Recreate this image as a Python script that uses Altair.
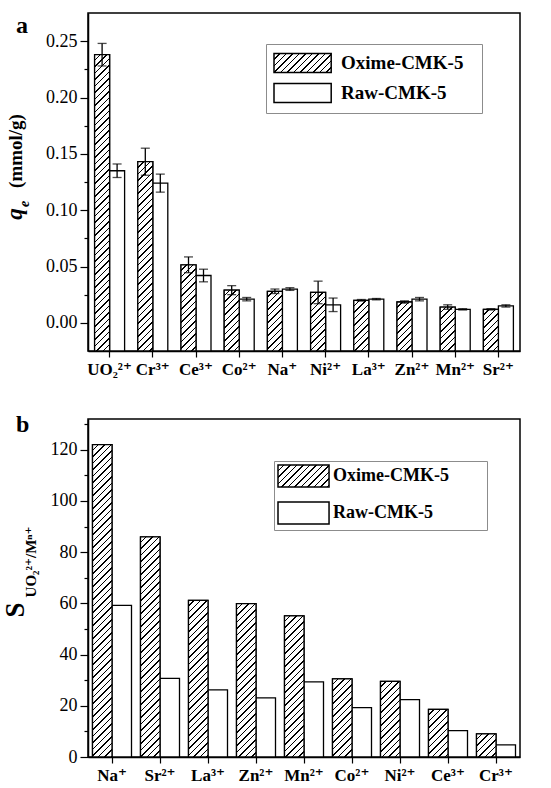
import json
import math
import altair as alt

FONT = "Liberation Serif, Times New Roman, DejaVu Serif, serif"

# ---------------- data ----------------
series = ["Oxime-CMK-5", "Raw-CMK-5"]

cats_a = ["UO₂²⁺", "Cr³⁺", "Ce³⁺", "Co²⁺", "Na⁺", "Ni²⁺", "La³⁺", "Zn²⁺", "Mn²⁺", "Sr²⁺"]
oxime_a = [0.238, 0.143, 0.0515, 0.029, 0.028, 0.027, 0.020, 0.0185, 0.014, 0.012]
raw_a = [0.135, 0.124, 0.042, 0.021, 0.030, 0.016, 0.021, 0.021, 0.012, 0.015]
oxime_err_a = [0.010, 0.012, 0.007, 0.004, 0.002, 0.010, 0.0007, 0.001, 0.002, 0.0006]
raw_err_a = [0.006, 0.008, 0.0056, 0.0015, 0.0012, 0.006, 0.0006, 0.0015, 0.0006, 0.001]

cats_b = ["Na⁺", "Sr²⁺", "La³⁺", "Zn²⁺", "Mn²⁺", "Co²⁺", "Ni²⁺", "Ce³⁺", "Cr³⁺"]
oxime_b = [122.0, 86.0, 61.2, 59.9, 55.1, 30.5, 29.5, 18.6, 9.0]
raw_b = [59.2, 30.7, 26.2, 23.1, 29.3, 19.3, 22.4, 10.3, 4.7]

ticks_a = [round(i * 0.025, 3) for i in range(11)]
ticks_b = list(range(0, 140, 10))

# ---------------- layout / style ----------------
W, H = 432, 338
A_DOM = [-0.025, 0.275]
B_DOM = [0, 132]
PI_A = 1 - 30 / 43.2
PI_B = 1 - 39 / 48.0


def hatch(w, h, period=6.5, lw=1.5):
    """Linear gradient with hard stops that draws '////' hatching in a w x h box."""
    d = math.ceil((w + h) / period) * period
    n = int(round(d / period))
    stops = []
    for k in range(n):
        a = k * period / d
        b = (k * period + period - lw) / d
        c = (k + 1) * period / d
        stops += [
            {"offset": round(a, 5), "color": "white"},
            {"offset": round(b, 5), "color": "white"},
            {"offset": round(b, 5), "color": "black"},
            {"offset": round(c, 5), "color": "black"},
        ]
    s = w * w + h * h
    return {"gradient": "linear", "x1": 0, "y1": 0,
            "x2": round(d * w / s, 6), "y2": round(d * h / s, 6), "stops": stops}


def records(cats, ox, raw, ox_err, raw_err, dom, pad_inner):
    bw = (W / len(cats)) * (1 - pad_inner) / 2
    out = []
    for i, c in enumerate(cats):
        hpx = (ox[i] - dom[0]) * H / (dom[1] - dom[0])
        out.append({"cat": c, "series": series[0], "v": ox[i],
                    "err": ox_err[i] if ox_err else 0, "grad": hatch(bw, hpx)})
        out.append({"cat": c, "series": series[1], "v": raw[i],
                    "err": raw_err[i] if raw_err else 0})
    return out


def text_layer(txt, x, y, size, weight="bold", style="normal", angle=0, align="center"):
    return alt.Chart(alt.Data(values=[{"t": txt}])).mark_text(
        font=FONT, fontSize=size, fontWeight=weight, fontStyle=style, angle=angle,
        align=align, baseline="alphabetic", color="black"
    ).encode(text="t:N", x=alt.value(x), y=alt.value(y))


def panel(recs, cats, dom, pad_inner, yaxis, legend, legend_grad, with_err, extras):
    base = alt.Chart(alt.Data(values=recs))
    x = alt.X("cat:N", sort=cats,
              scale=alt.Scale(paddingInner=pad_inner, paddingOuter=pad_inner / 2),
              axis=alt.Axis(title=None, labelAngle=0, labelFont=FONT, labelFontSize=17,
                            labelFontWeight="bold", labelPadding=4, tickSize=6,
                            labelColor="black"))
    xo = alt.XOffset("series:N", sort=series,
                     scale=alt.Scale(paddingInner=0, paddingOuter=0))
    yscale = alt.Scale(domain=dom, nice=False, zero=False)

    bars = base.mark_bar(stroke="black", strokeWidth=1.3).encode(
        x=x, xOffset=xo,
        y=alt.Y("v:Q", scale=yscale, axis=yaxis),
        y2=alt.datum(dom[0]),
        fill=alt.Fill("series:N",
                      scale=alt.Scale(domain=series,
                                      range=[{"expr": json.dumps(legend_grad)}, "white"]),
                      legend=legend),
    )
    hatch_bars = base.transform_filter(alt.datum.series == series[0]).mark_bar(
        stroke="black", strokeWidth=1.3, filled=True
    ).encode(
        x=x, xOffset=xo,
        y=alt.Y("v:Q", scale=yscale, axis=yaxis),
        y2=alt.datum(dom[0]),
        color=alt.Color("grad:N", scale=None, legend=None),
    )
    layers = [bars, hatch_bars]
    if with_err:
        eb = base.transform_calculate(lo="datum.v - datum.err", hi="datum.v + datum.err")
        layers.append(eb.mark_rule(color="black", strokeWidth=1.3).encode(
            x=x, xOffset=xo, y=alt.Y("lo:Q", scale=yscale, axis=yaxis), y2="hi:Q"))
        for f in ("lo", "hi"):
            layers.append(eb.mark_tick(color="black", size=9, thickness=1.3).encode(
                x=x, xOffset=xo, y=alt.Y(f + ":Q", scale=yscale, axis=yaxis)))
    layers += extras
    return alt.layer(*layers).properties(width=W, height=H)


def yaxis(tvals, mod_expr, fmt):
    return alt.Axis(
        title=None,
        values=tvals, labelExpr=f"{mod_expr} ? format(datum.value, '{fmt}') : ''",
        tickSize={"condition": {"test": mod_expr, "value": 8}, "value": 4},
        labelFont=FONT, labelFontSize=18, labelPadding=3, labelColor="black", grid=False,
    )


def legend(x, y, sym_path, label_offset, pad, row_pad, font_size, extra_w):
    # a blank (white) title on the right widens the box like the original
    return alt.Legend(
        title="|", titleOrient="right", titleColor="white", titleFontSize=2,
        titlePadding=extra_w,
        orient="none", legendX=x, legendY=y, direction="vertical",
        symbolType=sym_path, symbolSize=484, symbolStrokeColor="black",
        symbolStrokeWidth=1.5, symbolOpacity=1,
        labelFont=FONT, labelFontSize=font_size, labelFontWeight="bold", labelColor="black",
        labelOffset=label_offset,
        strokeColor="#8c8c8c", fillColor="white", padding=pad, rowPadding=row_pad,
    )


# ---------------- panel a ----------------
rec_a = records(cats_a, oxime_a, raw_a, oxime_err_a, raw_err_a, A_DOM, PI_A)
chart_a = panel(
    rec_a, cats_a, A_DOM, PI_A,
    yaxis(ticks_a, "abs(round(datum.value*40)) % 2 == 0", ".2f"),
    legend(178, 31, "M-1,-0.86H4.2V0.86H-1Z", 44, 7, 4, 19, 11),
    hatch(57.2, 18.9),
    True,
    [
        text_layer("a", -72, 20, 24, align="left"),
        text_layer("(mmol/g)", -66, 138, 19, angle=270),
        text_layer("q", -66, 201, 23, style="italic", angle=270),
        text_layer("e", -59, 191, 14, style="italic", angle=270),
    ],
)

# ---------------- panel b ----------------
rec_b = records(cats_b, oxime_b, raw_b, None, None, B_DOM, PI_B)
chart_b = panel(
    rec_b, cats_b, B_DOM, PI_B,
    yaxis(ticks_b, "datum.value % 20 == 0", "d"),
    legend(186, 42, "M-1,-1H3.64V1H-1Z", 32, 3, 9, 18, 34),
    hatch(51, 22),
    False,
    [
        text_layer("b", -72, 13, 24, align="left"),
        text_layer("S", -64, 191, 27, angle=270),
        text_layer("UO₂²⁺/Mⁿ⁺", -52, 143, 15, angle=270),
    ],
)

chart = alt.vconcat(chart_a, chart_b, spacing=34).resolve_scale(
    fill="independent", xOffset="independent"
).resolve_legend(fill="independent").configure_view(
    stroke="black", strokeWidth=1.5
).configure_axis(
    domainColor="black", domainWidth=1.5, tickColor="black", tickWidth=1.2
).properties(
    padding={"left": 1, "top": 12, "right": 5, "bottom": 5},
    background="white",
)

chart.save("out.html", embed_options={"renderer": "svg", "actions": False})
